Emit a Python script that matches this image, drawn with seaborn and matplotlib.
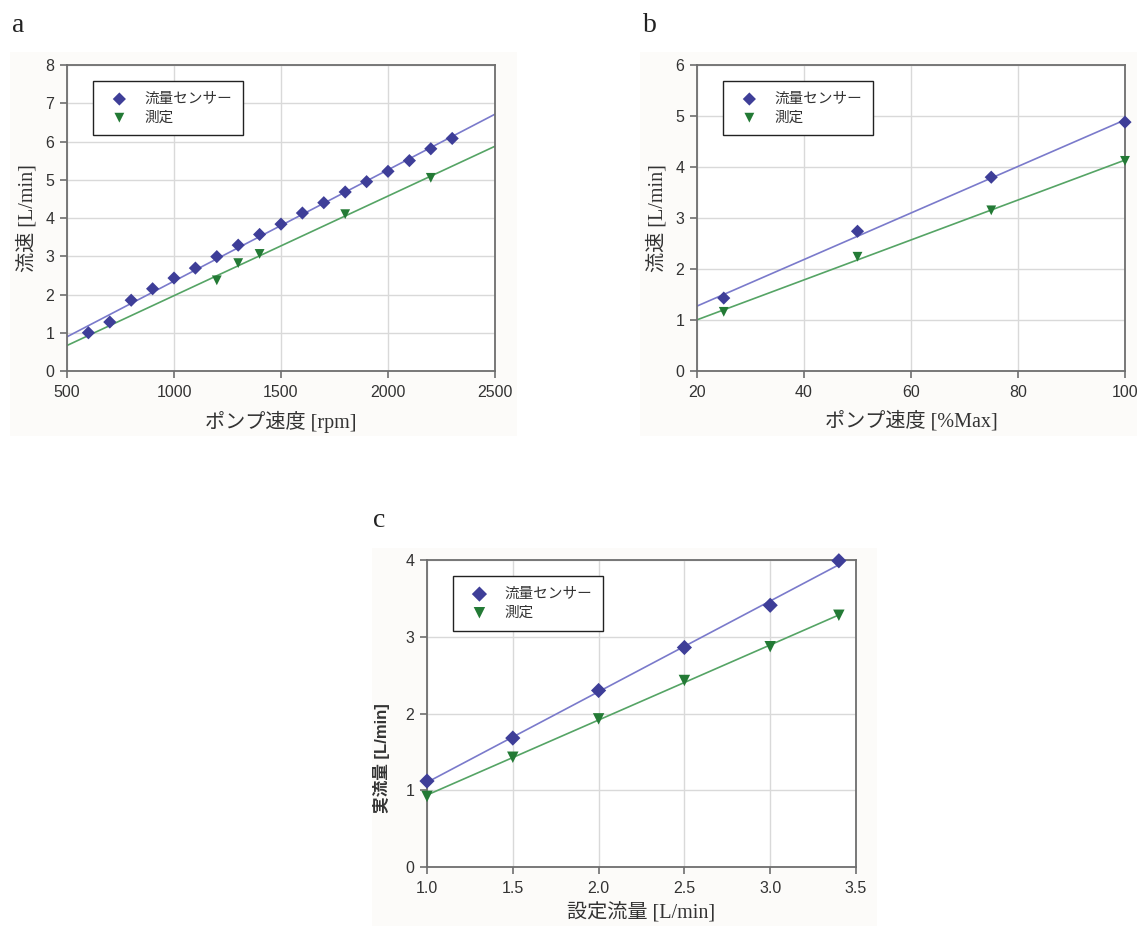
import numpy as np
import pandas as pd
import matplotlib
matplotlib.use("Agg")
import matplotlib.pyplot as plt
from matplotlib.ticker import MultipleLocator, FormatStrFormatter
from matplotlib.patches import Rectangle
import seaborn as sns

# --- data -------------------------------------------------------------
series_names = ["流量センサー", "測定"]

# (a) flow vs pump speed [rpm]
a_sensor_x = [600, 700, 800, 900, 1000, 1100, 1200, 1300, 1400, 1500,
              1600, 1700, 1800, 1900, 2000, 2100, 2200, 2300]
a_sensor_y = [1.00, 1.28, 1.85, 2.15, 2.43, 2.69, 2.99, 3.29, 3.57, 3.84,
              4.13, 4.40, 4.68, 4.95, 5.22, 5.50, 5.81, 6.08]
a_meas_x = [1200, 1300, 1400, 1800, 2200]
a_meas_y = [2.37, 2.82, 3.06, 4.10, 5.05]

# (b) flow vs pump speed [%Max]
b_sensor_x = [25, 50, 75, 100]
b_sensor_y = [1.43, 2.74, 3.80, 4.88]
b_meas_x = [25, 50, 75, 100]
b_meas_y = [1.16, 2.24, 3.15, 4.12]

# (c) actual vs set flow [L/min]
c_sensor_x = [1.0, 1.5, 2.0, 2.5, 3.0, 3.4]
c_sensor_y = [1.12, 1.68, 2.30, 2.86, 3.41, 3.99]
c_meas_x = [1.0, 1.5, 2.0, 2.5, 3.0, 3.4]
c_meas_y = [0.92, 1.43, 1.93, 2.43, 2.87, 3.28]

# --- style ------------------------------------------------------------
sns.set_theme(style="whitegrid")
plt.rcParams["font.family"] = ["Liberation Sans", "Noto Sans CJK JP"]
SERIF = ["Liberation Serif", "Noto Sans CJK JP"]
SANS = ["Liberation Sans", "Noto Sans CJK JP"]

sensor_marker_c = "#3e3e98"
sensor_line_c = "#7a7acb"
meas_marker_c = "#237a35"
meas_line_c = "#55a465"
spine_c = "#6e6e6e"
grid_c = "#d9d9d9"

fig = plt.figure(figsize=(11.37, 9.26), dpi=100)
fig.patch.set_facecolor("white")

W, H = 1137, 926


def fig_rect(x0, y0, x1, y1):
    return [x0 / W, 1 - y1 / H, (x1 - x0) / W, (y1 - y0) / H]


# faint panel backgrounds, kept beneath the axes
for (x0, y0, x1, y1) in [(10, 52, 517, 436), (640, 52, 1137, 436), (372, 548, 877, 926)]:
    fig.patches.append(Rectangle((x0 / W, 1 - y1 / H), (x1 - x0) / W, (y1 - y0) / H,
                                 transform=fig.transFigure, facecolor="#fcfbf9",
                                 edgecolor="none", zorder=-10))


def panel(rect, sx, sy, mx, my, xlim, ylim, xstep, ystep, xlabel, ylabel,
          truncate, xfmt=None, ylabel_font=SERIF, ylabel_weight="normal",
          ylabel_size=14.5, msize=(45, 50), xlabelpad=8, ylabel_pos=None):
    ax = fig.add_axes(fig_rect(*rect))
    ax.set_facecolor("white")
    ax.set_xlim(*xlim)
    ax.set_ylim(*ylim)

    sensor = pd.DataFrame({"x": sx, "y": sy})
    meas = pd.DataFrame({"x": mx, "y": my})

    # least-squares trend lines
    sns.regplot(data=sensor, x="x", y="y", ax=ax, scatter=False, ci=None,
                truncate=truncate, line_kws=dict(color=sensor_line_c, lw=1.2, zorder=2))
    sns.regplot(data=meas, x="x", y="y", ax=ax, scatter=False, ci=None,
                truncate=truncate, line_kws=dict(color=meas_line_c, lw=1.2, zorder=2))

    sns.scatterplot(data=sensor, x="x", y="y", ax=ax, marker="D", s=msize[0],
                    color=sensor_marker_c, edgecolor="none", linewidth=0,
                    label=series_names[0], zorder=3, clip_on=False)
    sns.scatterplot(data=meas, x="x", y="y", ax=ax, marker="v", s=msize[1],
                    color=meas_marker_c, edgecolor="none", linewidth=0,
                    label=series_names[1], zorder=3, clip_on=False)

    ax.set_xlim(*xlim)
    ax.set_ylim(*ylim)
    ax.xaxis.set_major_locator(MultipleLocator(xstep))
    ax.yaxis.set_major_locator(MultipleLocator(ystep))
    if xfmt:
        ax.xaxis.set_major_formatter(FormatStrFormatter(xfmt))

    ax.grid(True, color=grid_c, lw=1.0)
    for s in ax.spines.values():
        s.set_color(spine_c)
        s.set_linewidth(1.3)
        s.set_visible(True)
    ax.tick_params(axis="both", which="major", direction="out", length=5, width=1.2,
                   color=spine_c, labelsize=11.5, labelcolor="#333333",
                   bottom=True, left=True)
    ax.tick_params(axis="x", pad=5)
    ax.tick_params(axis="y", pad=4)

    ax.set_xlabel(xlabel, family=SERIF, fontsize=14.5, color="#333333", labelpad=xlabelpad)
    ax.set_ylabel(ylabel, family=ylabel_font, fontsize=ylabel_size, color="#333333",
                  weight=ylabel_weight, labelpad=6)
    if ylabel_pos is not None:
        ax.yaxis.set_label_coords(*ylabel_pos)

    leg = ax.legend(loc="upper left", bbox_to_anchor=(0.061, 0.948), borderaxespad=0,
                    frameon=True, fancybox=False, framealpha=1, edgecolor="#222222",
                    prop=dict(family=SANS, size=10.5), handletextpad=0.65,
                    borderpad=0.75, labelspacing=0.32, handlelength=2.1,
                    markerscale=1.0)
    leg.get_frame().set_linewidth(1.0)
    for t in leg.get_texts():
        t.set_color("#333333")
    return ax


panel((67, 65, 495, 371), a_sensor_x, a_sensor_y, a_meas_x, a_meas_y,
      (500, 2500), (0, 8), 500, 1, "ポンプ速度 [rpm]", "流速 [L/min]", truncate=False)

panel((697, 65, 1125, 371), b_sensor_x, b_sensor_y, b_meas_x, b_meas_y,
      (20, 100), (0, 6), 20, 1, "ポンプ速度 [%Max]", "流速 [L/min]", truncate=False)

panel((427, 560, 856, 867), c_sensor_x, c_sensor_y, c_meas_x, c_meas_y,
      (1.0, 3.5), (0, 4), 0.5, 1, "設定流量 [L/min]", "実流量 [L/min]", truncate=True,
      xfmt="%.1f", ylabel_font=SANS, ylabel_weight="bold", ylabel_size=12,
      msize=(60, 68), xlabelpad=5, ylabel_pos=(-0.086, 0.355))

# panel letters
for letter, (px, py) in zip(["a", "b", "c"], [(12, 32), (643, 32), (373, 527)]):
    fig.text(px / W, 1 - py / H, letter, family=SERIF, fontsize=20, color="#222222",
             va="baseline", ha="left")

fig.savefig("out.png", dpi=100)
